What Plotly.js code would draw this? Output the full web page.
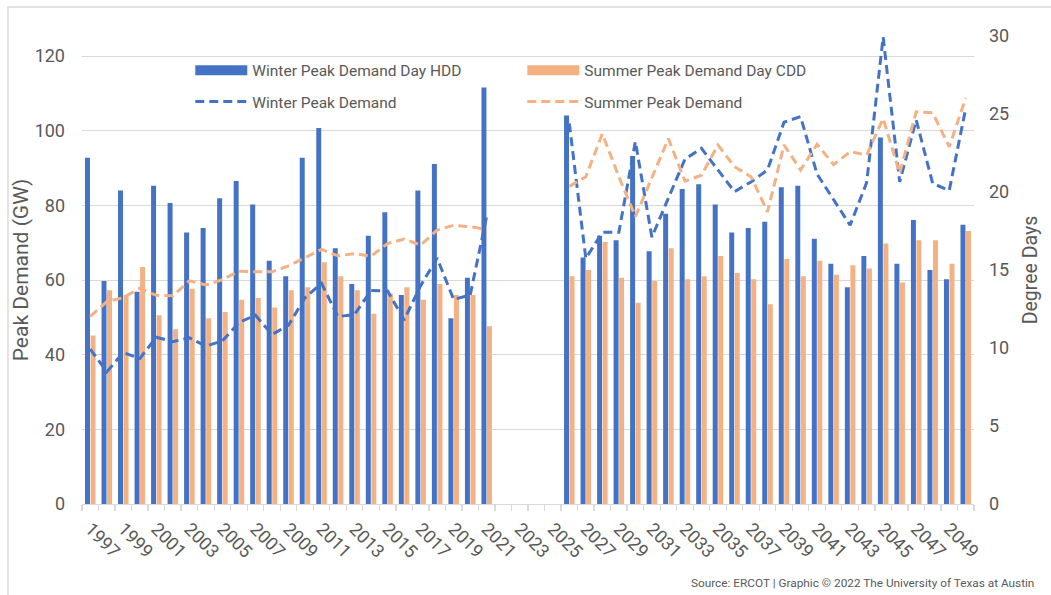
<!DOCTYPE html>
<html>
<head>
<meta charset="utf-8">
<script src="https://cdn.plot.ly/plotly-3.0.1.min.js"></script>
<style>
html,body{margin:0;padding:0;background:#ffffff;}
#chart{width:1051px;height:595px;}
</style>
</head>
<body>
<div id="chart"></div>
<script>
// ---- data ----
const years = [1997,1998,1999,2000,2001,2002,2003,2004,2005,2006,2007,2008,2009,2010,2011,2012,2013,2014,2015,2016,2017,2018,2019,2020,2021,2022,2023,2024,2025,2026,2027,2028,2029,2030,2031,2032,2033,2034,2035,2036,2037,2038,2039,2040,2041,2042,2043,2044,2045,2046,2047,2048,2049,2050];

// Degree days (right axis)
const winterHDD = [22.2,14.3,20.1,13.6,20.4,19.3,17.4,17.7,19.6,20.7,19.2,15.6,14.6,22.2,24.1,16.4,14.1,17.2,18.7,13.4,20.1,21.8,11.9,14.5,26.7,
  null,null,null,null,
  24.9,15.8,17.2,16.9,22.3,16.2,18.6,20.2,20.5,19.2,17.4,17.7,18.1,20.3,20.4,17.0,15.4,13.9,15.9,23.5,15.4,18.2,15.0,14.4,17.9];
const summerCDD = [10.8,13.7,13.4,15.2,12.1,11.2,13.8,11.9,12.3,13.1,13.2,12.6,13.7,13.9,15.5,14.6,13.7,12.2,13.5,13.9,13.1,14.1,13.4,13.4,11.4,
  null,null,null,null,
  14.6,15.0,16.8,14.5,12.9,14.3,16.4,14.4,14.6,15.9,14.8,14.4,12.8,15.7,14.6,15.6,14.7,15.3,15.1,16.7,14.2,16.9,16.9,15.4,17.5];

// Peak demand, GW (left axis)
const winterPeak = [41.5,35.4,40.6,39.0,44.7,43.5,44.5,42.3,43.7,48.6,50.6,45.4,47.9,55.3,59.1,50.2,50.8,57.2,57.1,49.3,58.5,65.9,54.8,56.0,77.1,
  null,null,null,null,
  102.0,65.8,72.8,72.8,97.1,71.5,82.0,92.4,95.3,89.5,83.7,86.3,89.5,102.3,103.8,88.4,81.7,74.7,86.1,125.1,86.3,102.9,85.9,84.0,106.0];
const summerPeak = [50.3,54.2,55.3,57.8,55.9,55.8,59.8,58.7,60.1,62.4,62.2,62.2,63.8,66.0,68.2,66.5,67.1,66.4,69.8,71.0,69.4,73.4,74.7,74.3,73.6,
  null,null,null,null,
  85.1,87.7,99.2,87.7,77.0,87.5,97.9,86.5,88.1,96.2,90.4,87.7,78.3,96.2,89.5,96.4,90.9,94.4,93.5,103.3,88.6,105.1,104.8,95.7,108.8];

const tickYears = years.filter((y, i) => i % 2 === 0 && y < 2050);
const tickLabels = tickYears.map(String);

const seriesNames = ['Winter Peak Demand Day HDD', 'Summer Peak Demand Day CDD', 'Winter Peak Demand', 'Summer Peak Demand'];
const sourceText = 'Source: ERCOT | Graphic \u00A9 2022 The University of Texas at Austin';

// ---- style ----
const BLUE = '#4472C4';
const ORANGE = '#F4B183';
const TXT = '#595959';
const GRID = '#D9D9D9';
const FONT = 'Roboto, "Liberation Sans", Arial, sans-serif';

const traces = [
  {type:'bar', name:seriesNames[0], x:years, y:winterHDD, yaxis:'y', marker:{color:BLUE}, showlegend:false, hoverinfo:'x+y'},
  {type:'bar', name:seriesNames[1], x:years, y:summerCDD, yaxis:'y', marker:{color:ORANGE}, showlegend:false, hoverinfo:'x+y'},
  // legend keys for the bar series
  {type:'scatter', mode:'lines', name:seriesNames[0], x:[null], y:[null], yaxis:'y', legend:'legend', line:{color:BLUE, width:10}, hoverinfo:'skip'},
  {type:'scatter', mode:'lines', name:seriesNames[1], x:[null], y:[null], yaxis:'y', legend:'legend', line:{color:ORANGE, width:10}, hoverinfo:'skip'},
  {type:'scatter', mode:'lines', name:seriesNames[2], x:years, y:winterPeak, yaxis:'y2', legend:'legend2', line:{color:BLUE, width:3, dash:'9px,5px'}, connectgaps:false},
  {type:'scatter', mode:'lines', name:seriesNames[3], x:years, y:summerPeak, yaxis:'y2', legend:'legend2', line:{color:ORANGE, width:3, dash:'9px,5px'}, connectgaps:false}
];

const legendBase = {orientation:'h', xanchor:'left', yanchor:'top', entrywidth:265, itemwidth:52,
  traceorder:'normal', bgcolor:'rgba(0,0,0,0)', font:{family:FONT, size:15.5, color:TXT}};

const layout = {
  width:1051, height:595,
  paper_bgcolor:'#ffffff', plot_bgcolor:'rgba(0,0,0,0)',
  margin:{l:82, r:77, t:36, b:91},
  font:{family:FONT, color:TXT, size:17},
  barmode:'group', bargap:0.33, bargroupgap:0.1,
  showlegend:true,
  legend:Object.assign({}, legendBase, {x:0.1214, y:0.962}),
  legend2:Object.assign({}, legendBase, {x:0.1214, y:0.8953}),
  xaxis:{
    type:'linear', range:[1996.5, 2050.5], tickmode:'array', tickvals:tickYears, ticktext:tickLabels,
    tickangle:45, ticks:'', ticklabelstandoff:6, tickfont:{size:18, color:TXT},
    showline:true, linecolor:GRID, linewidth:1.3, showgrid:false, zeroline:false,
    minor:{tick0:1996.5, dtick:1, ticks:'outside', ticklen:6, tickcolor:GRID, tickwidth:1.3, showgrid:false}
  },
  yaxis:{
    range:[0, 30], dtick:5, side:'right', showgrid:false, zeroline:false, showline:false,
    ticks:'', ticklabelstandoff:14, tickfont:{size:18, color:TXT},
    title:{text:'Degree Days', font:{size:19.5, color:TXT}, standoff:15}
  },
  yaxis2:{
    overlaying:'y', side:'left', range:[0, 125.4], dtick:20, showgrid:true, gridcolor:GRID, gridwidth:1,
    zeroline:false, showline:false, ticks:'', ticklabelstandoff:16, tickfont:{size:18, color:TXT},
    title:{text:'Peak Demand (GW)', font:{size:21, color:TXT}, standoff:0}
  },
  shapes:[
    {type:'rect', xref:'paper', yref:'paper', x0:-0.083, x1:1.3, y0:1.062, y1:-0.4,
     line:{color:GRID, width:1.5}, fillcolor:'rgba(0,0,0,0)', layer:'below'}
  ],
  annotations:[
    {xref:'paper', yref:'paper', x:1.0695, y:-0.1688, xanchor:'right', yanchor:'middle',
     text:sourceText, showarrow:false, font:{family:FONT, size:11.8, color:TXT}}
  ]
};

Plotly.newPlot('chart', traces, layout, {displayModeBar:false, staticPlot:true});
</script>
</body>
</html>
